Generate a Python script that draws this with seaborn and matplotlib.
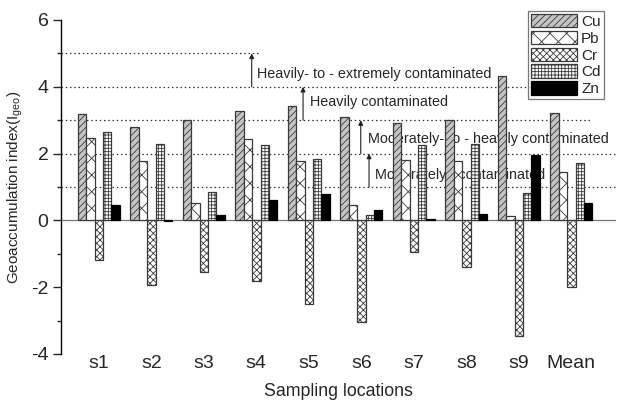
import matplotlib
matplotlib.use("Agg")
import matplotlib.pyplot as plt
import seaborn as sns
import pandas as pd
import numpy as np
from matplotlib.ticker import MultipleLocator

sites = ["s1", "s2", "s3", "s4", "s5", "s6", "s7", "s8", "s9", "Mean"]
metals = ["Cu", "Pb", "Cr", "Cd", "Zn"]
cu = [3.19, 2.81, 3.01, 3.29, 3.42, 3.10, 2.93, 3.01, 4.31, 3.23]
pb = [2.47, 1.79, 0.52, 2.45, 1.77, 0.45, 1.80, 1.77, 0.12, 1.46]
cr = [-1.20, -1.93, -1.54, -1.81, -2.50, -3.05, -0.95, -1.40, -3.47, -1.99]
cd = [2.65, 2.29, 0.84, 2.25, 1.84, 0.15, 2.25, 2.29, 0.82, 1.72]
zn = [0.47, -0.03, 0.15, 0.62, 0.79, 0.31, 0.03, 0.19, 1.96, 0.51]

class_levels = [1, 2, 3, 4, 5]
class_labels = ["Moderately   contaminated",
                "Moderately- to - heavily contaminated",
                "Heavily contaminated",
                "Heavily- to - extremely contaminated"]

sns.set_style("white")
plt.rcParams["font.family"] = ["Liberation Sans", "DejaVu Sans"]
plt.rcParams["mathtext.fontset"] = "custom"
plt.rcParams["mathtext.rm"] = "Liberation Sans"
plt.rcParams["mathtext.it"] = "Liberation Sans:italic"
plt.rcParams["hatch.linewidth"] = 0.6
plt.rcParams["axes.unicode_minus"] = False

df = pd.DataFrame({
    "site": np.repeat(sites, len(metals)),
    "metal": metals * len(sites),
    "value": np.ravel(np.column_stack([cu, pb, cr, cd, zn])),
})

fig = plt.figure(figsize=(6.18, 4.04), dpi=100)
ax = fig.add_axes([61 / 618, 50 / 404, 555 / 618, 334 / 404])

face = {"Cu": "#c4c4c4", "Pb": "white", "Cr": "white", "Cd": "white", "Zn": "black"}
hatches = {"Cu": "/////", "Pb": "xx", "Cr": "xxxxx", "Cd": "+++++", "Zn": ""}

sns.barplot(data=df, x="site", y="value", hue="metal", order=sites,
            hue_order=metals, palette=face, edgecolor="#3a3a3a",
            linewidth=0.9, width=0.8, ax=ax, legend=False)

for cont, m in zip(ax.containers, metals):
    for p in cont.patches:
        p.set_hatch(hatches[m])
        p.set_edgecolor("#3a3a3a" if m != "Zn" else "black")
        p.set_zorder(3)

ax.set_xlim(-0.72, 9.85)
ax.set_ylim(-4, 6)

# zero line
ax.axhline(0, color="#777777", lw=0.9, zorder=2.5)

# dotted class lines
ends = {5: 3.03, 4: 8.27, 3: 9.36, 2: 9.85, 1: 9.85}
for lv in class_levels:
    ax.hlines(lv, -0.72, ends[lv], colors="#333333", linestyles=(0, (1.2, 2.2)),
              lw=0.9, zorder=1)

# arrows and labels
arrow_x = [5.147, 4.989, 3.89, 2.912]
text_x = [5.261, 5.122, 4.023, 3.007]
text_y = [1.37, 2.44, 3.53, 4.39]
for i, lab in enumerate(class_labels):
    ax.annotate("", xy=(arrow_x[i], class_levels[i + 1]),
                xytext=(arrow_x[i], class_levels[i]),
                arrowprops=dict(arrowstyle="-|>", lw=0.8, color="#222222",
                                mutation_scale=7, shrinkA=0, shrinkB=0),
                zorder=1)
    ax.text(text_x[i], text_y[i], lab, fontsize=10.4, va="center", ha="left",
            zorder=1)

for s in ["top", "right", "bottom"]:
    ax.spines[s].set_visible(False)
ax.spines["left"].set_color("black")
ax.spines["left"].set_linewidth(1.0)

ax.yaxis.set_major_locator(MultipleLocator(2))
ax.yaxis.set_minor_locator(MultipleLocator(1))
ax.tick_params(axis="y", which="major", direction="out", length=6, width=1,
               labelsize=14, pad=3, left=True)
ax.tick_params(axis="y", which="minor", direction="out", length=3, width=1, left=True)
ax.tick_params(axis="x", length=0, labelsize=14, pad=1)

ax.set_xlabel("Sampling locations", fontsize=12.8, labelpad=8)
ax.set_ylabel("Geoaccumulation index(I$_{\\rm geo}$)", fontsize=11, labelpad=4)

leg = ax.legend(ax.containers, metals, loc="upper right",
                bbox_to_anchor=(0.978, 1.028), borderaxespad=0,
                fontsize=11, handlelength=3.0, handleheight=1.0,
                labelspacing=0.12, handletextpad=0.3, borderpad=0.2,
                fancybox=False, frameon=True)
leg.get_frame().set_edgecolor("#555555")
leg.get_frame().set_linewidth(0.9)
leg.set_zorder(5)

fig.savefig("out.png", dpi=100)
